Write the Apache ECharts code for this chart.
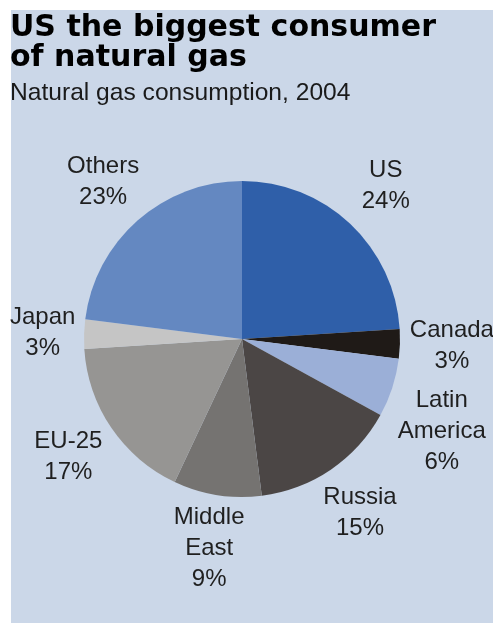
<!DOCTYPE html>
<html>
<head>
<meta charset="utf-8">
<title>US the biggest consumer of natural gas</title>
<script src="https://cdn.jsdelivr.net/npm/echarts@6/dist/echarts.min.js"></script>
<style>
  html, body { margin: 0; padding: 0; background: #ffffff; }
  #chart { width: 493px; height: 623px; }
</style>
</head>
<body>
<div id="chart"></div>
<script>
// natural gas consumption 2004, share of world total (%)
var regions = ['US', 'Canada', 'Latin\nAmerica', 'Russia', 'Middle\nEast', 'EU-25', 'Japan', 'Others'];
var shares = [24, 3, 6, 15, 9, 17, 3, 23];
var colors = ['#2f5fa9', '#1f1a17', '#9bafd7', '#4b4645', '#757371', '#969593', '#c5c5c5', '#6488c1'];

var cx = 242, cy = 339, radius = 158, labelR = 210;
var total = shares.reduce(function (s, v) { return s + v; }, 0);

// distance from the pie centre to the nearest point of a label box
function boxDist(x, y, w, h) {
  var nx = Math.max(x - w / 2, Math.min(cx, x + w / 2));
  var ny = Math.max(y - h / 2, Math.min(cy, y + h / 2));
  return Math.sqrt((nx - cx) * (nx - cx) + (ny - cy) * (ny - cy));
}

var chart = echarts.init(document.getElementById('chart'));
chart.setOption({
  backgroundColor: '#ffffff',
  animation: false,
  graphic: [{
    type: 'rect',
    z: -10,
    shape: { x: 11, y: 10, width: 482, height: 613 },
    style: { fill: '#cbd7e8' }
  }],
  title: {
    left: 10,
    top: 13,
    text: 'US the biggest consumer\nof natural gas',
    subtext: 'Natural gas consumption, 2004',
    itemGap: 7,
    padding: 0,
    textStyle: {
      fontFamily: 'DejaVu Sans',
      fontWeight: 'bold',
      fontSize: 30,
      lineHeight: 30,
      color: '#000000'
    },
    subtextStyle: {
      fontFamily: 'Liberation Sans',
      fontSize: 24.6,
      lineHeight: 26,
      color: '#1a1a1a'
    }
  },
  series: [{
    type: 'pie',
    center: [cx, cy],
    radius: radius,
    startAngle: 90,
    clockwise: true,
    avoidLabelOverlap: false,
    silent: true,
    itemStyle: { borderWidth: 0 },
    label: {
      show: true,
      position: 'outside',
      fontFamily: 'Liberation Sans',
      fontSize: 24,
      lineHeight: 31,
      color: '#1f1f1f',
      formatter: function (p) { return p.name + '\n' + p.value + '%'; }
    },
    labelLine: { show: false },
    labelLayout: function (p) {
      var i = p.dataIndex;
      var before = 0;
      for (var k = 0; k < i; k++) before += shares[k];
      var a = (before + shares[i] / 2) / total * 2 * Math.PI;
      var ux = Math.sin(a), uy = -Math.cos(a);
      var w = p.labelRect.width, h = p.labelRect.height;
      var x = cx + ux * labelR, y = cy + uy * labelR;
      // slide the label vertically until it clears the pie
      var dir = uy >= 0 ? 1 : -1;
      for (var n = 0; n < 80 && boxDist(x, y, w, h) < radius + 4; n++) y += dir;
      x = Math.max(x, 10 + w / 2);
      return { x: x, y: y, align: 'center', verticalAlign: 'middle' };
    },
    data: regions.map(function (name, i) {
      return { name: name, value: shares[i], itemStyle: { color: colors[i] } };
    })
  }]
});
</script>
</body>
</html>
